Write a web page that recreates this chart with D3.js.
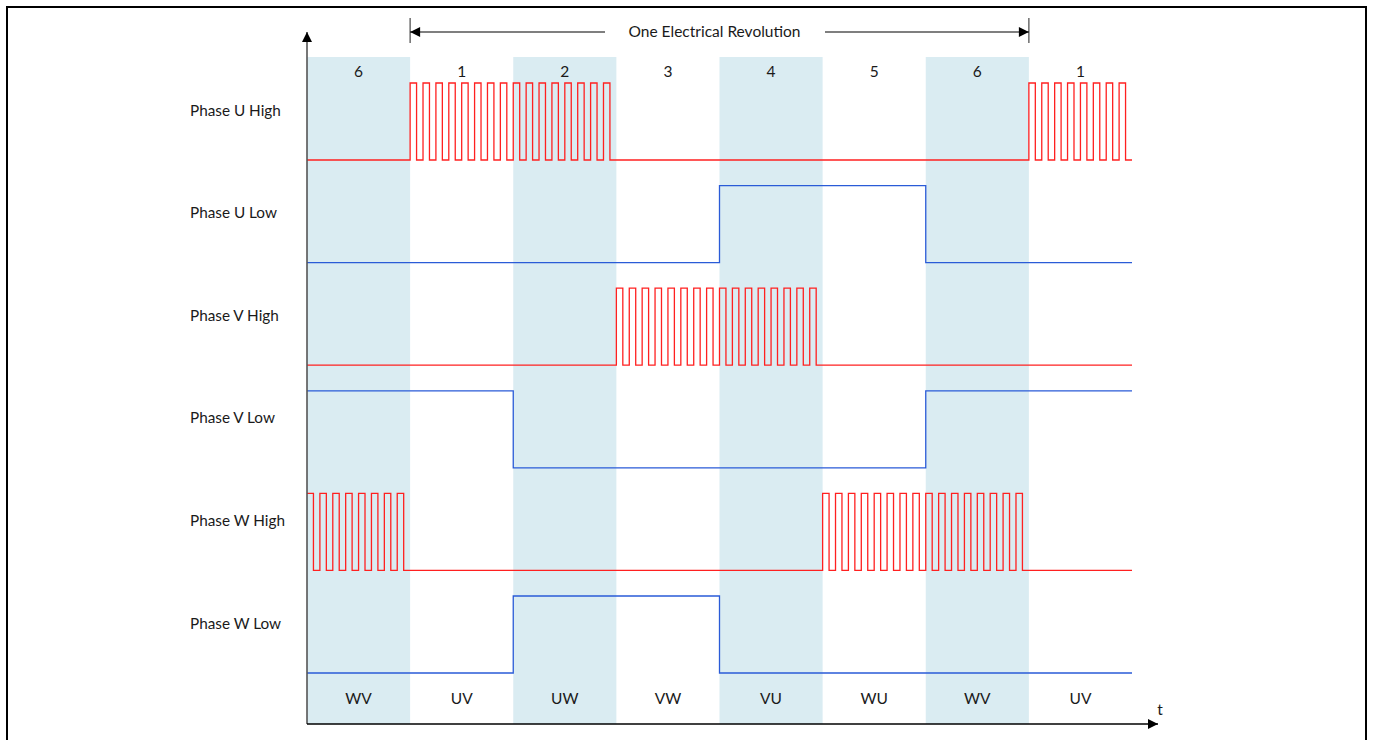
<!DOCTYPE html>
<html>
<head>
<meta charset="utf-8">
<script src="https://cdn.jsdelivr.net/npm/d3@7"></script>
<style>
  html, body { margin: 0; padding: 0; background: #fff; }
  svg { display: block; }
  text { font-family: Lato, "Open Sans", sans-serif; fill: #1a1a1a; }
</style>
</head>
<body>
<svg id="chart" width="1373" height="740"></svg>
<script>
// ---- data ----
const sectorNumbers = ["6", "1", "2", "3", "4", "5", "6", "1"];
const commutations = ["WV", "UV", "UW", "VW", "VU", "WU", "WV", "UV"];
const shadedSectors = [true, false, true, false, true, false, true, false];
const phaseNames = ["Phase U High", "Phase U Low", "Phase V High", "Phase V Low", "Phase W High", "Phase W Low"];
const phaseKinds = ["high", "low", "high", "low", "high", "low"];
// per-sector state: "P" = PWM switching, "1" = on, "0" = off
const uHigh = ["0", "P", "P", "0", "0", "0", "0", "P"];
const uLow  = ["0", "0", "0", "0", "1", "1", "0", "0"];
const vHigh = ["0", "0", "0", "P", "P", "0", "0", "0"];
const vLow  = ["1", "1", "0", "0", "0", "0", "1", "1"];
const wHigh = ["P", "0", "0", "0", "0", "P", "P", "0"];
const wLow  = ["0", "0", "1", "1", "0", "0", "0", "0"];
const phaseStates = [uHigh, uLow, vHigh, vLow, wHigh, wLow];
const pulsesPerSector = 8;
const dutyCycle = 0.5;
const revolutionLabel = "One Electrical Revolution";
const revolutionSpan = [1, 7];
const timeLabel = "t";

// ---- layout ----
const svg = d3.select("#chart");
const x = d3.scaleLinear().domain([0, sectorNumbers.length]).range([307, 1132]);
const rowStep = 102.6;
const highY = i => 83 + rowStep * i;
const lowY = i => 160 + rowStep * i;
const axisBottom = 724;
const shadeTop = 57;

// frame
svg.append("path")
  .attr("d", "M7,745 V7 H1366 V745")
  .attr("fill", "none").attr("stroke", "#000").attr("stroke-width", 2);

// shaded sectors
svg.append("g").selectAll("rect")
  .data(sectorNumbers.map((d, i) => i).filter(i => shadedSectors[i]))
  .join("rect")
  .attr("x", i => x(i)).attr("width", i => x(i + 1) - x(i))
  .attr("y", shadeTop).attr("height", axisBottom - shadeTop)
  .attr("fill", "#daecf2");

// sector numbers
svg.append("g").selectAll("text")
  .data(sectorNumbers)
  .join("text")
  .attr("x", (d, i) => (x(i) + x(i + 1)) / 2)
  .attr("y", 76.5)
  .attr("text-anchor", "middle")
  .attr("font-size", 15.5)
  .text(d => d);

// commutation labels
svg.append("g").selectAll("text")
  .data(commutations)
  .join("text")
  .attr("x", (d, i) => (x(i) + x(i + 1)) / 2)
  .attr("y", 703.5)
  .attr("text-anchor", "middle")
  .attr("font-size", 15.5)
  .text(d => d);

// phase labels
svg.append("g").selectAll("text")
  .data(phaseNames)
  .join("text")
  .attr("x", 190)
  .attr("y", (d, i) => 115.5 + rowStep * i)
  .attr("font-size", 15.3)
  .text(d => d);

// signal paths
function signalPoints(states, i) {
  const pts = [];
  const hi = highY(i), lo = lowY(i);
  states.forEach((s, k) => {
    if (s === "P") {
      for (let p = 0; p < pulsesPerSector; p++) {
        const t0 = k + p / pulsesPerSector;
        const t1 = k + (p + dutyCycle) / pulsesPerSector;
        pts.push([x(t0), lo], [x(t0), hi], [x(t1), hi], [x(t1), lo]);
      }
      pts.push([x(k + 1), lo]);
    } else {
      const yv = s === "1" ? hi : lo;
      pts.push([x(k), yv], [x(k + 1), yv]);
    }
  });
  return pts;
}
const line = d3.line();
svg.append("g").selectAll("path")
  .data(phaseStates)
  .join("path")
  .attr("d", (d, i) => {
    let pts = signalPoints(d, i);
    if (d[0] === "P") pts = pts.slice(1);
    return line(pts);
  })
  .attr("fill", "none")
  .attr("stroke", (d, i) => phaseKinds[i] === "high" ? "#ff2020" : "#2a5bd7")
  .attr("stroke-width", 1.3);

// axes
const defs = svg.append("defs");
defs.append("marker").attr("id", "arrBig").attr("viewBox", "0 0 10 10")
  .attr("refX", 10).attr("refY", 5).attr("markerWidth", 14).attr("markerHeight", 10)
  .attr("markerUnits", "userSpaceOnUse").attr("orient", "auto-start-reverse")
  .append("path").attr("d", "M0,0 L10,5 L0,10 Z").attr("fill", "#000");

svg.append("line").attr("x1", 307).attr("x2", 307).attr("y1", axisBottom).attr("y2", 32)
  .attr("stroke", "#555").attr("stroke-width", 1.6).attr("marker-end", "url(#arrBig)");
svg.append("line").attr("x1", 307).attr("x2", 1158).attr("y1", axisBottom).attr("y2", axisBottom)
  .attr("stroke", "#000").attr("stroke-width", 1.3).attr("marker-end", "url(#arrBig)");
svg.append("text").attr("x", 1160).attr("y", 715).attr("text-anchor", "middle")
  .attr("font-size", 15.5).text(timeLabel);

// revolution dimension
const rx0 = x(revolutionSpan[0]), rx1 = x(revolutionSpan[1]);
[rx0, rx1].forEach(v => {
  svg.append("line").attr("x1", v).attr("x2", v).attr("y1", 18).attr("y2", 43)
    .attr("stroke", "#555").attr("stroke-width", 1.3);
});
const midX = (rx0 + rx1) / 2;
svg.append("line").attr("x1", 605).attr("x2", rx0).attr("y1", 32).attr("y2", 32)
  .attr("stroke", "#000").attr("stroke-width", 1.2).attr("marker-end", "url(#arrBig)");
svg.append("line").attr("x1", 825).attr("x2", rx1).attr("y1", 32).attr("y2", 32)
  .attr("stroke", "#000").attr("stroke-width", 1.2).attr("marker-end", "url(#arrBig)");
svg.append("text").attr("x", midX - 5).attr("y", 36.5).attr("text-anchor", "middle")
  .attr("font-size", 15.5).text(revolutionLabel);
</script>
</body>
</html>
